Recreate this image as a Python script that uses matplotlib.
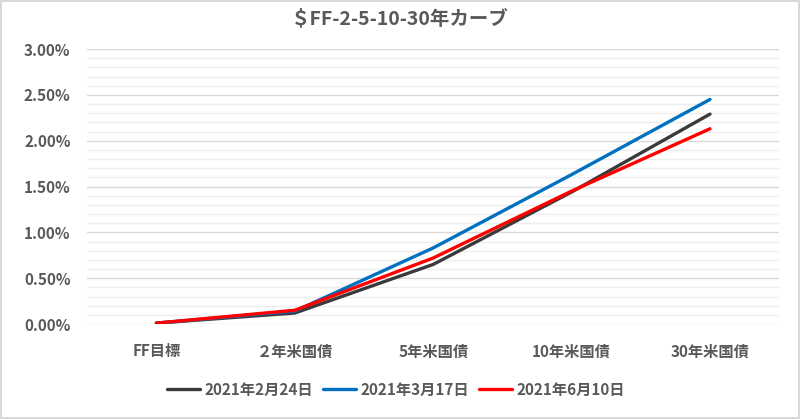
import matplotlib.pyplot as plt
from matplotlib.ticker import MultipleLocator, FuncFormatter

plt.rcParams['font.family'] = ['Noto Sans CJK JP', 'DejaVu Sans']

# Data (yield, %)
categories = ['FF目標', '２年米国債', '5年米国債', '10年米国債', '30年米国債']
dates = ['2021年2月24日', '2021年3月17日', '2021年6月10日']
feb24 = [0.01, 0.12, 0.65, 1.44, 2.29]
mar17 = [0.01, 0.14, 0.83, 1.63, 2.45]
jun10 = [0.01, 0.15, 0.72, 1.45, 2.13]
colors = ['#3a3a3a', '#0070c0', '#ff0000']

fig = plt.figure(figsize=(8, 4.19), dpi=100)
fig.patch.set_edgecolor('#d9d9d9')
fig.patch.set_linewidth(1.5)
ax = fig.add_axes([0.109, 0.2267, 0.865, 0.6563])

x = range(len(categories))
for vals, lab, c in zip([feb24, mar17, jun10], dates, colors):
    ax.plot(x, vals, color=c, lw=2.4, label=lab, solid_capstyle='round')

ax.set_xlim(-0.5, len(categories) - 0.5)
ax.set_ylim(0, 3.0)
ax.yaxis.set_major_locator(MultipleLocator(0.5))
ax.yaxis.set_minor_locator(MultipleLocator(0.1))
ax.yaxis.set_major_formatter(FuncFormatter(lambda v, p: f'{v:.2f}%'))
ax.grid(axis='y', which='major', color='#d9d9d9', lw=1)
ax.grid(axis='y', which='minor', color='#ededed', lw=1)
ax.set_axisbelow(True)
for s in ax.spines.values():
    s.set_visible(False)
ax.tick_params(axis='both', which='both', length=0)
ax.tick_params(axis='y', pad=12)
ax.tick_params(axis='x', pad=14)
ax.set_xticks(list(x))
ax.set_xticklabels(categories)
for t in ax.get_xticklabels() + ax.get_yticklabels():
    t.set_fontsize(11)
    t.set_color('#595959')
    t.set_fontweight('bold')

fig.text(0.5, 0.955, '＄FF-2-5-10-30年カーブ', ha='center', va='center',
         fontsize=14, fontweight='bold', color='#595959')

leg = fig.legend(loc='center', bbox_to_anchor=(0.495, 0.07), ncol=3, frameon=False,
                 handlelength=2.2, handletextpad=0.3, columnspacing=0.6,
                 prop={'size': 11, 'weight': 'bold'})
for t in leg.get_texts():
    t.set_color('#595959')

fig.savefig('out.png', dpi=100)
